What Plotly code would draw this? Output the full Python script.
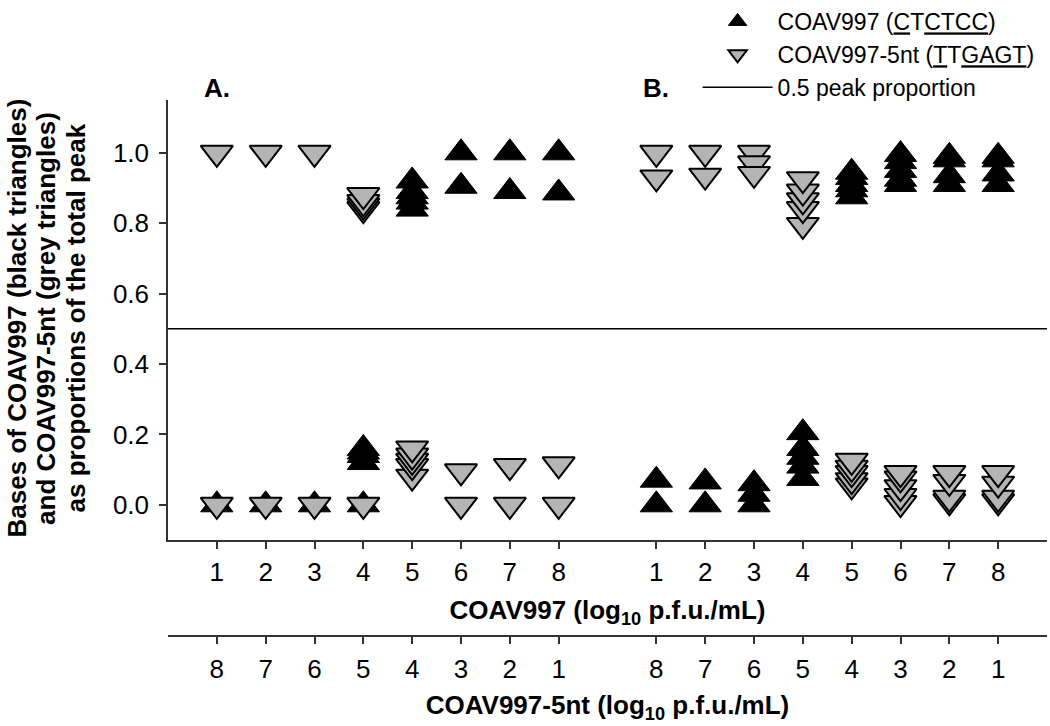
import plotly.graph_objects as go

# ---------------- data ----------------
concentrations = [1, 2, 3, 4, 5, 6, 7, 8]
coav_tick_labels = ["1", "2", "3", "4", "5", "6", "7", "8"]
nt_tick_labels = ["8", "7", "6", "5", "4", "3", "2", "1"]

# Panel A: proportions per concentration (COAV997 = black, COAV997-5nt = grey)
black_A = [
    [0.0], [0.0], [0.0],
    [0.0, 0.12, 0.14, 0.15, 0.16],
    [0.84, 0.86, 0.875, 0.89, 0.92],
    [0.905, 1.0], [0.89, 1.0], [0.886, 1.0],
]
grey_A = [
    [1.0, 0.0], [1.0, 0.0], [1.0, 0.0],
    [0.0, 0.84, 0.85, 0.86, 0.88],
    [0.08, 0.11, 0.125, 0.14, 0.16],
    [0.0, 0.095], [0.0, 0.11], [0.0, 0.115],
]
# Panel B
black_B = [
    [0.0, 0.07], [0.0, 0.065], [0.0, 0.03, 0.06],
    [0.075, 0.11, 0.135, 0.16, 0.205],
    [0.875, 0.895, 0.91, 0.93, 0.945],
    [0.91, 0.925, 0.95, 0.975, 0.995],
    [0.91, 0.935, 0.98, 0.99],
    [0.91, 0.94, 0.98, 0.99],
]
grey_B = [
    [1.0, 0.93], [1.0, 0.935], [1.0, 0.97, 0.94],
    [0.795, 0.84, 0.865, 0.89, 0.925],
    [0.055, 0.07, 0.09, 0.105, 0.125],
    [0.005, 0.025, 0.05, 0.075, 0.09],
    [0.01, 0.02, 0.065, 0.09],
    [0.01, 0.02, 0.06, 0.09],
]
half_peak = 0.5
panel_labels = ["A.", "B."]
y_title_lines = [
    "Bases of COAV997 (black triangles)",
    "and COAV997-5nt (grey triangles)",
    "as proportions of the total peak",
]

# ---------------- layout helpers ----------------
PANEL_SHIFT = [0, 9]          # panel B placed after a gap on the shared axis
X_RANGE = [0, 18]
FONT = "Liberation Sans, Arial, sans-serif"
PLOT_LEFT, PLOT_W = 168, 879  # px of plot area (for paper-coordinate placement)
Y_TITLE_PX = [17, 46.5, 76]   # centre of each y-title line, px from left edge


def flatten(panels):
    xs, ys = [], []
    for shift, panel in zip(PANEL_SHIFT, panels):
        for c, vals in zip(concentrations, panel):
            for v in vals:
                xs.append(c + shift)
                ys.append(v)
    return xs, ys


bx, by = flatten([black_A, black_B])
gx, gy = flatten([grey_A, grey_B])

tickvals = [c + s for s in PANEL_SHIFT for c in concentrations]
ticktext_top = coav_tick_labels * 2
ticktext_bottom = nt_tick_labels * 2

fig = go.Figure()
fig.add_trace(go.Scatter(
    x=bx, y=by, mode="markers",
    name="COAV997 (<u>C</u>T<u>CTCC</u>)",
    marker=dict(symbol="triangle-up", size=28, color="black",
                line=dict(color="black", width=1)),
    cliponaxis=False,
))
fig.add_trace(go.Scatter(
    x=gx, y=gy, mode="markers",
    name="COAV997-5nt (<u>T</u>T<u>GAGT</u>)",
    marker=dict(symbol="triangle-down", size=28, color="#b4b4b4",
                line=dict(color="black", width=2)),
    cliponaxis=False,
))
fig.add_trace(go.Scatter(
    x=X_RANGE, y=[half_peak, half_peak], mode="lines",
    name="0.5 peak proportion",
    line=dict(color="black", width=1.5),
))
# dummy (empty) trace to register the second x axis
fig.add_trace(go.Scatter(x=[], y=[], xaxis="x2", showlegend=False,
                         hoverinfo="skip"))

for lab, shift in zip(panel_labels, PANEL_SHIFT):
    fig.add_annotation(x=concentrations[0] + shift, y=1.0224, xref="x", yref="paper",
                       text="<b>%s</b>" % lab, showarrow=False,
                       xanchor="center", yanchor="middle",
                       font=dict(family=FONT, size=26, color="black"))

# y-axis title (three rotated lines)
for line, px in zip(y_title_lines, Y_TITLE_PX):
    fig.add_annotation(x=(px - PLOT_LEFT) / PLOT_W, y=0.5925,
                       xref="paper", yref="paper",
                       text="<b>%s</b>" % line, textangle=-90, showarrow=False,
                       xanchor="center", yanchor="middle",
                       font=dict(family=FONT, size=26, color="black"))

axis_color = "#333333"
tick_font = dict(family=FONT, size=26, color="black")
title_font = dict(family=FONT, size=26, color="black")
fig.update_layout(
    width=1050, height=726,
    margin=dict(l=168, r=3, t=100, b=90, autoexpand=False),
    paper_bgcolor="white", plot_bgcolor="white",
    font=dict(family=FONT, color="black"),
    showlegend=True,
    legend=dict(x=0.6025, y=1.1866, xanchor="left", yanchor="top",
                font=dict(family=FONT, size=23, color="black"),
                itemwidth=70, bgcolor="rgba(0,0,0,0)", tracegroupgap=0),
    xaxis=dict(range=X_RANGE, tickmode="array", tickvals=tickvals,
               ticktext=ticktext_top, showgrid=False, zeroline=False,
               showline=True, linecolor=axis_color, linewidth=1.5,
               ticks="outside", ticklen=7, tickcolor=axis_color, tickwidth=1.5,
               tickfont=tick_font, ticklabelstandoff=1, automargin=False,
               title=dict(text="<b>COAV997 (log<sub>10</sub> p.f.u./mL)</b>",
                          font=title_font, standoff=15)),
    xaxis2=dict(range=X_RANGE, overlaying="x", anchor="free", position=0,
                side="bottom", tickmode="array", tickvals=tickvals,
                ticktext=ticktext_bottom, showgrid=False, zeroline=False,
                showline=True, linecolor=axis_color, linewidth=1.5,
                ticks="outside", ticklen=7, tickcolor=axis_color, tickwidth=1.5,
                tickfont=tick_font, ticklabelstandoff=3, automargin=False,
                title=dict(text="<b>COAV997-5nt (log<sub>10</sub> p.f.u./mL)</b>",
                           font=title_font, standoff=12)),
    yaxis=dict(domain=[0.1791, 1.0], range=[-0.1, 1.15],
               tickmode="array", tickvals=[0, 0.2, 0.4, 0.6, 0.8, 1.0],
               tickformat=".1f", showgrid=False, zeroline=False,
               showline=True, linecolor=axis_color, linewidth=1.5,
               ticks="outside", ticklen=7, tickcolor=axis_color, tickwidth=1.5,
               tickfont=tick_font, ticklabelstandoff=5, automargin=False),
)

fig.write_html("out.html", config={"displayModeBar": False},
               post_script="document.body.style.margin='0';")
